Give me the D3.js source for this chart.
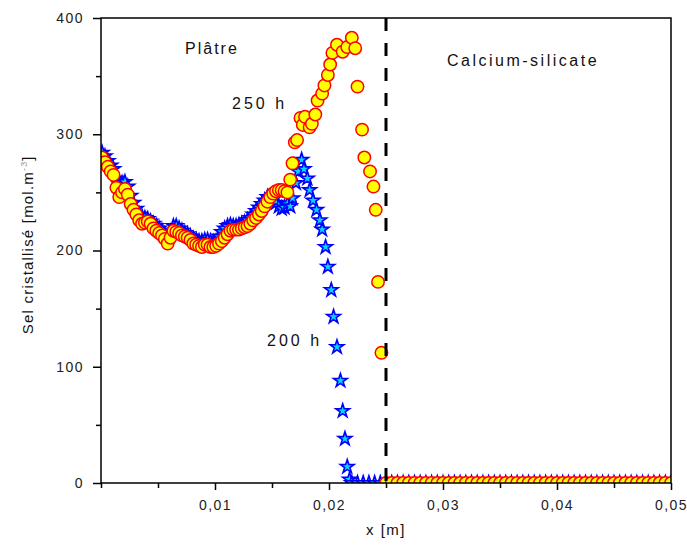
<!DOCTYPE html>
<html>
<head>
<meta charset="utf-8">
<script src="https://cdn.jsdelivr.net/npm/d3@7"></script>
<style>
  html, body { margin: 0; padding: 0; background: #fff; }
  svg { display: block; }
  text { font-family: "Liberation Sans", Arial, sans-serif; }
</style>
</head>
<body>
<div id="chart"></div>
<script>
// ---- Data ----
const xTicks = [0.01, 0.02, 0.03, 0.04, 0.05];
const xTickLabels = ["0,01", "0,02", "0,03", "0,04", "0,05"];
const yTicks = [0, 100, 200, 300, 400];
const yTickLabels = ["0", "100", "200", "300", "400"];
const boundaryX = 0.025;

// 200 h series (stars)
const x200 = [0.0001,0.00035,0.0006,0.00085,0.0011,0.00135,0.0016,0.00185,0.0021,0.00235,
  0.0026,0.00285,0.0031,0.00335,0.0036,0.00385,0.0041,0.00435,0.0046,0.00485,
  0.0051,0.00535,0.0056,0.00585,0.0061,0.00635,0.0066,0.00685,0.0071,0.00735,
  0.0076,0.00785,0.0081,0.00835,0.0086,0.00885,0.0091,0.00935,0.0096,0.00985,
  0.0101,0.01035,0.0106,0.01085,0.0111,0.01135,0.0116,0.01185,0.0121,0.01235,
  0.0126,0.01285,0.0131,0.01335,0.0136,0.01385,0.0141,0.01435,0.0146,0.01485,
  0.0151,0.01535,0.0156,0.01585,0.0161,0.01635,0.0166,0.0168,0.0171,0.0173,
  0.0176,0.0178,0.0181,0.0183,0.0186,0.0189,0.0192,0.0194,0.0197,0.0199,
  0.0202,0.0204,0.0207,0.0210,0.0212,0.0214,0.0216,0.0218,
  0.0220,0.0225,0.0230,0.0235,0.0240,0.0245,0.0250,0.0255,0.0260,0.0265,
  0.0270,0.0275,0.0280,0.0285,0.0290,0.0295,0.0300,0.0305,0.0310,0.0315,
  0.0320,0.0325,0.0330,0.0335,0.0340,0.0345,0.0350,0.0355,0.0360,0.0365,
  0.0370,0.0375,0.0380,0.0385,0.0390,0.0395,0.0400,0.0405,0.0410,0.0415,
  0.0420,0.0425,0.0430,0.0435,0.0440,0.0445,0.0450,0.0455,0.0460,0.0465,
  0.0470,0.0475,0.0480,0.0485,0.0490,0.0495,0.0500];
const y200 = [284,281,277,273,270,262,257,258,259,255,
  247,241,236,231,229,228,227,225,223,221,
  219,217,214,212,216,221,221,219,217,215,
  214,212,210,209,208,208,209,209,208,207,
  208,212,216,219,221,222,221,221,222,223,
  224,226,228,231,234,237,240,243,246,246,
  244,241,238,236,237,240,238,245,258,268,
  278,270,262,252,243,235,226,218,203,186,
  166,143,117,88,62,38,14,3,
  0,0,0,0,0,0,0,0,0,0,
  0,0,0,0,0,0,0,0,0,0,
  0,0,0,0,0,0,0,0,0,0,
  0,0,0,0,0,0,0,0,0,0,
  0,0,0,0,0,0,0,0,0,0,
  0,0,0,0,0,0,0];

// 250 h series (circles)
const x250 = [0.0001,0.00035,0.0006,0.00085,0.0011,0.00135,0.0016,0.00185,0.0021,0.00235,
  0.0026,0.00285,0.0031,0.00335,0.0036,0.00385,0.0041,0.00435,0.0046,0.00485,
  0.0051,0.00535,0.0056,0.00585,0.0061,0.00635,0.0066,0.00685,0.0071,0.00735,
  0.0076,0.00785,0.0081,0.00835,0.0086,0.00885,0.0091,0.00935,0.0096,0.00985,
  0.0101,0.01035,0.0106,0.01085,0.0111,0.01135,0.0116,0.01185,0.0121,0.01235,
  0.0126,0.01285,0.0131,0.01335,0.0136,0.01385,0.0141,0.01435,0.0146,0.01485,
  0.0151,0.01535,0.0156,0.01585,0.0161,0.01635,0.0166,0.0168,
  0.0170,0.0172,0.0175,0.0177,0.0179,0.0183,0.0185,
  0.0188,0.0190,0.0194,0.0196,0.0199,0.0201,0.0203,0.0207,0.0212,0.0216,
  0.0220,0.0223,0.0225,0.0229,0.0231,0.0236,0.0239,0.0241,0.0243,0.0246,
  0.0250,0.0255,0.0260,0.0265,0.0270,0.0275,0.0280,0.0285,0.0290,0.0295,
  0.0300,0.0305,0.0310,0.0315,0.0320,0.0325,0.0330,0.0335,0.0340,0.0345,
  0.0350,0.0355,0.0360,0.0365,0.0370,0.0375,0.0380,0.0385,0.0390,0.0395,
  0.0400,0.0405,0.0410,0.0415,0.0420,0.0425,0.0430,0.0435,0.0440,0.0445,
  0.0450,0.0455,0.0460,0.0465,0.0470,0.0475,0.0480,0.0485,0.0490,0.0495,0.0500];
const y250 = [280,276,272,268,265,254,246,250,253,248,
  240,235,231,226,223,224,225,223,219,217,
  215,213,210,206,211,217,216,215,213,212,
  211,209,206,205,204,203,205,205,203,203,
  204,206,208,211,214,217,218,218,218,219,
  220,221,223,226,228,231,234,238,242,246,
  249,251,252,252,251,250,261,275,
  293,295,314,308,315,306,309,
  317,329,335,342,351,360,370,377,371,375,
  383,374,341,304,280,268,255,235,173,112,
  0,0,0,0,0,0,0,0,0,0,
  0,0,0,0,0,0,0,0,0,0,
  0,0,0,0,0,0,0,0,0,0,
  0,0,0,0,0,0,0,0,0,0,
  0,0,0,0,0,0,0,0,0,0,
  0,0,0,0,0,0,0,0,0,0,0];

// ---- Layout ----
const W = 687, H = 545;
const margin = { left: 101, right: 16, top: 18, bottom: 62 };
const pw = W - margin.left - margin.right;   // 570
const ph = H - margin.top - margin.bottom;   // 465

const svg = d3.select("#chart").append("svg")
  .attr("width", W).attr("height", H);

const x = d3.scaleLinear().domain([0, 0.05]).range([margin.left, margin.left + pw]);
const y = d3.scaleLinear().domain([0, 400]).range([margin.top + ph, margin.top]);

svg.append("defs").append("clipPath").attr("id", "plotclip")
  .append("rect")
  .attr("x", margin.left).attr("y", margin.top)
  .attr("width", pw).attr("height", ph);

// ---- Data marks ----
const gData = svg.append("g").attr("clip-path", "url(#plotclip)");

const starSym = d3.symbol().type(d3.symbolStar).size(58);
const s200 = x200.map((v, i) => ({ x: v, y: y200[i] }));
const s250 = x250.map((v, i) => ({ x: v, y: y250[i] }));

gData.selectAll("path.star").data(s200).join("path")
  .attr("class", "star")
  .attr("d", starSym)
  .attr("transform", d => `translate(${x(d.x)},${y(d.y)})`)
  .attr("fill", "#00d8ff")
  .attr("stroke", "#0000ff")
  .attr("stroke-width", 1.6);

gData.selectAll("circle.c250").data(s250).join("circle")
  .attr("class", "c250")
  .attr("cx", d => x(d.x))
  .attr("cy", d => y(d.y))
  .attr("r", 6.2)
  .attr("fill", "#ffff00")
  .attr("stroke", "#ff0000")
  .attr("stroke-width", 1.5);

// ---- Boundary dashed line ----
svg.append("line")
  .attr("x1", x(boundaryX)).attr("x2", x(boundaryX))
  .attr("y1", y(400)).attr("y2", y(0))
  .attr("stroke", "#000").attr("stroke-width", 3)
  .attr("stroke-dasharray", "13,12");

// ---- Frame ----
svg.append("rect")
  .attr("x", margin.left).attr("y", margin.top)
  .attr("width", pw).attr("height", ph)
  .attr("fill", "none").attr("stroke", "#000").attr("stroke-width", 1.5);

// ---- Axes ----
const fmtX = d => { const i = xTicks.indexOf(d); return i >= 0 ? xTickLabels[i] : ""; };
const fmtY = d => { const i = yTicks.indexOf(d); return i >= 0 ? yTickLabels[i] : ""; };

const xAxis = svg.append("g")
  .attr("transform", `translate(0,${margin.top + ph})`)
  .call(d3.axisBottom(x).tickValues(xTicks).tickFormat(fmtX).tickSize(7).tickPadding(10));
const xMinor = svg.append("g")
  .attr("transform", `translate(0,${margin.top + ph})`)
  .call(d3.axisBottom(x).tickValues([0, 0.005, 0.015, 0.025, 0.035, 0.045]).tickFormat("").tickSize(5));

const yAxis = svg.append("g")
  .attr("transform", `translate(${margin.left},0)`)
  .call(d3.axisLeft(y).tickValues(yTicks).tickFormat(fmtY).tickSize(8).tickPadding(9));
const yMinor = svg.append("g")
  .attr("transform", `translate(${margin.left},0)`)
  .call(d3.axisLeft(y).tickValues([50, 150, 250, 350]).tickFormat("").tickSize(5));

[xAxis, xMinor, yAxis, yMinor].forEach(g => {
  g.select(".domain").remove();
  g.selectAll("line").attr("stroke", "#000").attr("stroke-width", 1.5);
  g.selectAll("text")
    .attr("font-family", "'Liberation Sans', Arial, sans-serif")
    .attr("font-size", 14)
    .attr("letter-spacing", "1.5px")
    .attr("fill", "#222");
});

// ---- Axis titles ----
svg.append("text")
  .attr("x", x(0.025)).attr("y", 535)
  .attr("text-anchor", "middle")
  .attr("font-size", 15)
  .attr("letter-spacing", "1.5px")
  .attr("fill", "#111")
  .text("x [m]");

const yl = svg.append("text")
  .attr("transform", `translate(33,${y(205)}) rotate(-90)`)
  .attr("text-anchor", "middle")
  .attr("font-size", 15)
  .attr("letter-spacing", "1.2px")
  .attr("fill", "#111");
yl.append("tspan").text("Sel cristallisé [mol.m");
yl.append("tspan").attr("dy", -6).attr("font-size", 9).attr("fill", "#999").text("-3");
yl.append("tspan").attr("dy", 6).text("]");

// ---- Annotations ----
const ann = [
  { t: "Plâtre", x: 185, y: 54, ls: 2 },
  { t: "Calcium-silicate", x: 447, y: 66, ls: 2.5 },
  { t: "250 h", x: 232, y: 109, ls: 3 },
  { t: "200 h", x: 267, y: 346, ls: 3 }
];
svg.selectAll("text.ann").data(ann).join("text")
  .attr("class", "ann")
  .attr("x", d => d.x).attr("y", d => d.y)
  .attr("font-size", 16)
  .attr("letter-spacing", d => d.ls + "px")
  .attr("fill", "#111")
  .text(d => d.t);
</script>
</body>
</html>
